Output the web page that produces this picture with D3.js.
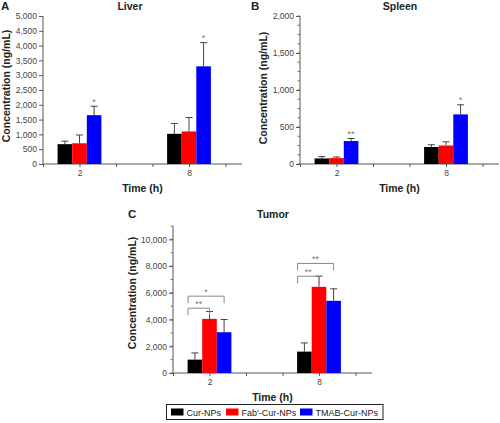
<!DOCTYPE html>
<html><head><meta charset="utf-8">
<script src="https://cdn.jsdelivr.net/npm/d3@7"></script>
<style>body{margin:0;background:#fff}svg{display:block;font-family:"Liberation Sans",Arial,sans-serif}</style>
</head><body><svg id="c" width="500" height="423"></svg>
<script>
const categories = ["2", "8"];
const series = ["Cur-NPs", "Fab\u2032-Cur-NPs", "TMAB-Cur-NPs"];
const colors = ["#000000", "#ff0000", "#0000ff"];

const liverMean = [[670, 1020], [700, 1100], [1650, 3300]];
const liverErr  = [[100, 350], [280, 470], [300, 800]];
const liverStars = [["", ""], ["", ""], ["*", "*"]];

const spleenMean = [[75, 230], [80, 250], [310, 670]];
const spleenErr  = [[25, 30], [15, 50], [35, 130]];
const spleenStars = [["", ""], ["", ""], ["**", "*"]];

const tumorMean = [[1000, 1600], [4050, 6450], [3050, 5400]];
const tumorErr  = [[500, 650], [550, 800], [950, 900]];
const tumorStars = [["", ""], ["", ""], ["", ""]];
// brackets: [category index, target series index, level, label]
const tumorBrackets = [[0, 1, 4850, "**"], [0, 2, 5750, "*"], [1, 1, 7240, "**"], [1, 2, 8200, "**"]];

const svg = d3.select("#c");

function panel(o) {
  const g = svg.append("g");
  const x = d3.scaleLinear().domain([0, 5.45]).range([o.left, o.left + 36.5 * 5.45]);
  const y = d3.scaleLinear().domain([0, o.ymax]).range([o.bottom, o.top]);
  const catPos = [1, 4];
  const bw = x(0.4) - x(0);

  if (o.minor) {
    const mt = d3.range(0, o.ymax + 1, o.minor);
    g.selectAll(".my").data(mt).join("line")
      .attr("x1", o.left - 2.5).attr("x2", o.left)
      .attr("y1", d => y(d)).attr("y2", d => y(d))
      .attr("stroke", "#555").attr("stroke-width", 0.8);
  }
  const yAxis = d3.axisLeft(y).tickValues(o.yticks).tickSize(4).tickPadding(2)
    .tickFormat(d3.format(","));
  const ya = g.append("g").attr("transform", `translate(${o.left},0)`).call(yAxis);
  ya.select(".domain").attr("stroke", "#555").attr("d", `M-0,${y(0)}V${o.top}`);
  ya.selectAll(".tick line").attr("stroke", "#555");
  ya.selectAll("text").attr("font-size", 8.5).attr("fill", "#444").attr("font-family", "Liberation Sans, Arial, sans-serif");

  const xAxis = d3.axisBottom(x).tickValues([0, 1, 2, 3, 4, 5]).tickSize(3).tickPadding(3)
    .tickFormat(d => d === 1 ? categories[0] : d === 4 ? categories[1] : "");
  const xa = g.append("g").attr("transform", `translate(0,${o.bottom})`).call(xAxis);
  xa.select(".domain").attr("stroke", "#555").attr("d", `M${x(0)},0H${x(5.45)}`);
  xa.selectAll(".tick line").attr("stroke", "#555");
  xa.selectAll("text").attr("font-size", 8.5).attr("fill", "#444").attr("font-family", "Liberation Sans, Arial, sans-serif");

  series.forEach((s, si) => {
    categories.forEach((c, ci) => {
      const cx = catPos[ci] + (si - 1) * 0.4;
      const x0 = x(cx - 0.2), v = o.mean[si][ci], e = o.err[si][ci];
      const mx = x(cx);
      g.append("line").attr("x1", mx).attr("x2", mx).attr("y1", y(v)).attr("y2", y(v + e))
        .attr("stroke", "#444").attr("stroke-width", 1);
      g.append("line").attr("x1", mx - 3.5).attr("x2", mx + 3.5).attr("y1", y(v + e)).attr("y2", y(v + e))
        .attr("stroke", "#444").attr("stroke-width", 1);
      g.append("rect").attr("x", x0).attr("y", y(v)).attr("width", bw).attr("height", y(0) - y(v))
        .attr("fill", colors[si]);
      const st = o.stars[si][ci];
      if (st) {
        g.append("text").attr("x", mx).attr("y", y(v + e) - 1.5).attr("text-anchor", "middle")
          .attr("font-size", 9).attr("fill", "#777").text(st);
      }
    });
  });

  (o.brackets || []).forEach(b => {
    const ci = b[0], ti = b[1];
    const xa0 = x(catPos[ci] - 0.6) + 0.5;
    const xb = x(catPos[ci] + (ti - 1) * 0.4);
    const yy = y(b[2]);
    g.append("path").attr("d", `M${xa0},${yy + 7}V${yy}H${xb}V${yy + 7}`)
      .attr("fill", "none").attr("stroke", "#888").attr("stroke-width", 1);
    g.append("text").attr("x", (xa0 + xb) / 2).attr("y", yy - 1.5).attr("text-anchor", "middle")
      .attr("font-size", 9).attr("fill", "#777").text(b[3]);
  });

  g.append("text").attr("x", o.titleX).attr("y", o.titleY).attr("text-anchor", "middle")
    .attr("font-size", 10.5).attr("font-weight", "bold").attr("fill", "#222").text(o.title);
  g.append("text").attr("x", o.letterX).attr("y", o.titleY).attr("font-size", 11.5)
    .attr("font-weight", "bold").attr("fill", "#222").text(o.letter);
  g.append("text").attr("transform", `translate(${o.ytX},${o.ytY}) rotate(-90)`).attr("text-anchor", "middle")
    .attr("font-size", 10.5).attr("font-weight", "bold").attr("fill", "#222").text("Concentration (ng/mL)");
  g.append("text").attr("x", (x(0) + x(5.45)) / 2).attr("y", o.bottom + 28).attr("text-anchor", "middle")
    .attr("font-size", 10.5).attr("font-weight", "bold").attr("fill", "#222").text("Time (h)");
}

panel({left: 43, bottom: 164, top: 16, ymax: 5000, yticks: d3.range(0, 5001, 500), minor: 0,
  mean: liverMean, err: liverErr, stars: liverStars, title: "Liver", titleX: 130, titleY: 10,
  letter: "A", letterX: 1, ytX: 10, ytY: 86});
panel({left: 300, bottom: 164, top: 16, ymax: 2000, yticks: d3.range(0, 2001, 500), minor: 125,
  mean: spleenMean, err: spleenErr, stars: spleenStars, title: "Spleen", titleX: 400, titleY: 10,
  letter: "B", letterX: 251, ytX: 267, ytY: 88});
panel({left: 173, bottom: 373, top: 226, ymax: 11000, yticks: d3.range(0, 10001, 2000), minor: 1000,
  mean: tumorMean, err: tumorErr, stars: tumorStars, brackets: tumorBrackets, title: "Tumor", titleX: 273, titleY: 218,
  letter: "C", letterX: 128, ytX: 136, ytY: 293});

const lg = svg.append("g");
const legX = [171, 226, 300];
const texts = [];
series.forEach((s, i) => {
  lg.append("rect").attr("x", legX[i]).attr("y", 408.5).attr("width", 12.5).attr("height", 7).attr("fill", colors[i]);
  texts.push(lg.append("text").attr("x", legX[i] + 15.5).attr("y", 415.5).attr("font-size", 9).attr("fill", "#222").text(s));
});
const endX = texts[2].node().getComputedTextLength() + legX[2] + 15.5;
lg.insert("rect", ":first-child").attr("x", 166.5).attr("y", 404.5).attr("width", endX + 5 - 166.5).attr("height", 15)
  .attr("fill", "#fff").attr("stroke", "#222").attr("stroke-width", 1);
</script></body></html>
